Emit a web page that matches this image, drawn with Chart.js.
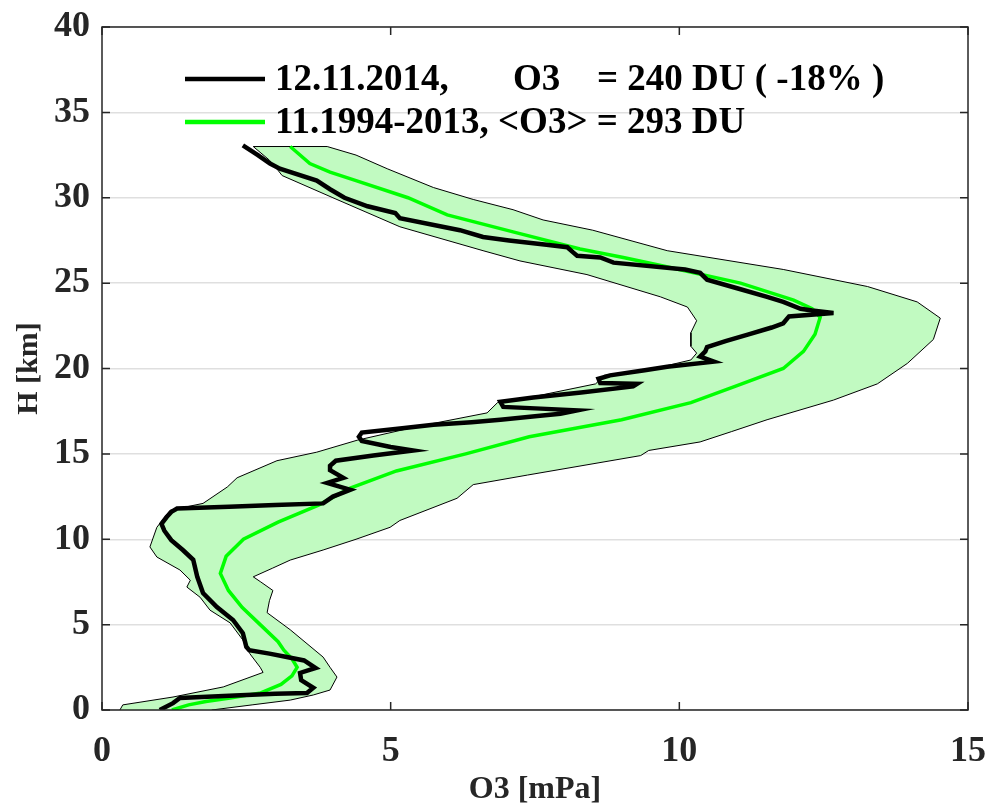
<!DOCTYPE html>
<html>
<head>
<meta charset="utf-8">
<title>Ozone profile</title>
<script src="https://cdn.jsdelivr.net/npm/chart.js@4.4.1/dist/chart.umd.min.js"></script>
<style>
    html, body { margin: 0; padding: 0; background: #fff; }
    #wrap { width: 992px; height: 809px; }
</style>
</head>
<body>
<div id="wrap"><canvas id="ozone"></canvas></div>
<script>
// Sounding of 12.11.2014: height [km] / O3 partial pressure [mPa]
const profileH = [0, 0.4, 0.7, 0.85, 0.95, 1.0, 1.3, 1.75, 2.17, 2.46, 2.9, 3.1, 3.3, 3.5, 3.7, 4.5, 5.27, 6.03, 6.85, 7.8,
    8.8, 9.37, 9.95, 10.5, 10.9, 11.3, 11.6, 11.8, 11.9, 12.0, 12.1, 12.5, 12.9, 13.1, 13.3, 13.6, 14.05, 14.3, 14.6, 14.9,
    15.2, 15.4, 15.75, 16.0, 16.25, 16.5, 16.7, 16.85, 17.0, 17.2, 17.35, 17.55, 17.65, 17.75, 18.05, 18.3, 18.6, 18.95, 19.1, 19.15,
    19.4, 19.6, 19.9, 20.1, 20.4, 20.7, 21.0, 21.25, 21.6, 22.0, 22.4, 22.65, 23.05, 23.25, 23.4, 23.5, 23.9, 24.2, 24.7, 25.2,
    25.6, 25.8, 26.2, 26.5, 26.6, 26.8, 27.1, 27.25, 27.5, 27.7, 28.1, 28.8, 29.1, 29.5, 30.0, 30.5, 31.0, 31.7, 32.0, 32.5, 33.07];
const profileO3 = [1.0, 1.23, 1.35, 2.3, 3.0, 3.55, 3.66, 3.45, 3.43, 3.7, 3.5, 3.2, 2.9, 2.55, 2.5, 2.44, 2.27, 1.99, 1.75, 1.65,
    1.58, 1.4, 1.2, 1.08, 1.03, 1.12, 1.2, 1.3, 2.2, 3.0, 3.83, 4.0, 4.3, 4.1, 3.9, 4.18, 3.95, 3.95, 4.05, 4.7,
    5.39, 5.0, 4.5, 4.45, 4.5, 5.2, 5.74, 6.4, 6.9, 7.5, 7.94, 8.23, 7.6, 6.95, 6.9, 7.47, 8.3, 9.2, 9.27, 8.63,
    8.6, 8.8, 9.4, 9.79, 10.6, 10.36, 10.45, 10.48, 10.8, 11.2, 11.6, 11.8, 11.9, 12.67, 12.3, 12.1, 11.8, 11.52, 11.0, 10.48,
    10.36, 10.1, 8.86, 8.63, 8.23, 8.16, 8.06, 7.7, 7.05, 6.6, 6.2, 5.16, 5.08, 4.6, 4.2, 3.95, 3.72, 3.08, 2.91, 2.7, 2.44];

// November mean 1994-2013
const meanH = [0, 0.3, 0.5, 0.7, 1.0, 1.5, 2.0, 2.5, 3.0, 3.5, 4.0, 5.0, 6.0, 7.0, 8.0, 9.0, 10.0, 11.0, 12.0, 13.0,
    14.0, 15.0, 16.0, 16.5, 17.0, 18.0, 19.0, 20.0, 21.0, 22.0, 23.0, 23.5, 24.0, 25.0, 26.0, 26.5, 27.0, 28.0, 29.0, 30.0,
    31.0, 31.5, 32.0, 33.0];
const meanO3 = [1.21, 1.5, 1.8, 2.22, 2.75, 3.1, 3.29, 3.38, 3.29, 3.15, 3.05, 2.74, 2.43, 2.19, 2.05, 2.15, 2.45, 3.05, 3.75, 4.3,
    5.1, 6.3, 7.4, 8.2, 9.0, 10.2, 11.0, 11.8, 12.15, 12.35, 12.44, 12.3, 11.98, 11.06, 9.72, 9.03, 8.28, 7.12, 5.98, 5.3,
    4.4, 3.95, 3.6, 3.26];

// envelope of the November soundings: upper edge (bottom to top), lower edge (top to bottom)
const bandMaxH = [0, 0.3, 0.58, 0.88, 1.17, 1.93, 2.5, 3.1, 4.7, 5.7, 6.4, 7.0, 7.5, 7.8, 8.3, 8.78, 9.37, 10.0, 10.7, 11.1,
    12.4, 13.2, 13.76, 14.9, 15.2, 15.7, 16.3, 17.0, 18.15, 19.1, 20.3, 21.7, 22.95, 23.9, 24.8, 25.8, 26.9, 28.1, 28.7, 29.3,
    29.9, 30.6, 31.7, 32.5, 33.0];
const bandMaxO3 = [1.9, 2.6, 3.26, 3.66, 3.95, 4.07, 3.95, 3.83, 3.26, 2.86, 2.9, 2.96, 2.75, 2.62, 2.95, 3.26, 3.83, 4.4, 4.99, 5.16,
    6.15, 6.43, 7.37, 9.33, 9.47, 10.36, 10.9, 11.52, 12.67, 13.43, 13.95, 14.4, 14.52, 14.12, 13.26, 11.8, 9.79, 8.5, 7.64, 7.12,
    6.43, 5.74, 4.94, 4.4, 3.9];
const bandMinH = [33.0, 32.2, 31.6, 31.3, 30.0, 28.3, 26.9, 26.3, 25.5, 24.2, 23.6, 22.8, 22.1, 21.3, 20.9, 20.5, 20.1, 19.6, 19.1, 18.3,
    18.0, 17.4, 16.6, 15.8, 15.1, 14.6, 13.6, 13.06, 12.1, 11.7, 10.7, 9.55, 8.96, 8.2, 7.6, 7.2, 6.6, 5.85, 5.1, 4.1,
    3.3, 2.5, 2.2, 1.35, 0.76, 0.3, 0];
const bandMinO3 = [2.62, 2.9, 3.05, 3.12, 4.0, 5.16, 6.6, 7.24, 8.4, 9.67, 10.14, 10.3, 10.2, 10.2, 10.3, 10.2, 9.7, 8.7, 8.55, 7.4,
    6.85, 6.67, 5.46, 4.42, 3.72, 3.03, 2.34, 2.17, 1.75, 1.18, 0.95, 0.83, 0.95, 1.35, 1.53, 1.47, 1.7, 1.87, 2.22, 2.44,
    2.56, 2.74, 2.79, 2.1, 1.23, 0.36, 0.31];

const xTicks = [0, 5, 10, 15];
const yTicks = [0, 5, 10, 15, 20, 25, 30, 35, 40];

const legendRows = [
    { color: '#000000', parts: ['12.11.2014,', 'O3', '= 240 DU ( -18% )'] },
    { color: '#00ff00', parts: ['11.1994-2013, <O3> = 293 DU'] }
];

const FONT = '"Liberation Serif", "Times New Roman", serif';
const AXIS_COLOR = '#262626';

const toPoints = (xs, hs) => xs.map((x, i) => ({ x: x, y: hs[i] }));
const bandPolygon = toPoints(bandMaxO3, bandMaxH).concat(toPoints(bandMinO3, bandMinH));

// legend sits inside the axes, upper left
const legendPlugin = {
    id: 'profileLegend',
    afterDatasetsDraw(chart) {
        const { ctx, chartArea: a } = chart;
        ctx.save();
        ctx.font = 'bold 37px ' + FONT;
        ctx.fillStyle = '#000';
        ctx.textBaseline = 'alphabetic';
        const partX = [173, 411, 495];
        legendRows.forEach((row, i) => {
            const mid = a.top + 52 + i * 43;
            ctx.strokeStyle = row.color;
            ctx.lineWidth = 4.5;
            ctx.beginPath();
            ctx.moveTo(a.left + 83, mid);
            ctx.lineTo(a.left + 163, mid);
            ctx.stroke();
            row.parts.forEach((t, j) => ctx.fillText(t, a.left + partX[j], mid + 11));
        });
        ctx.restore();
    }
};

// box around the axes with inward tick marks
const framePlugin = {
    id: 'axesFrame',
    afterDraw(chart) {
        const { ctx, chartArea: a, scales } = chart;
        ctx.save();
        ctx.strokeStyle = AXIS_COLOR;
        ctx.lineWidth = 1.5;
        ctx.strokeRect(a.left, a.top, a.right - a.left, a.bottom - a.top);
        const len = 8;
        ctx.beginPath();
        xTicks.forEach(v => {
            const px = scales.x.getPixelForValue(v);
            ctx.moveTo(px, a.bottom); ctx.lineTo(px, a.bottom - len);
            ctx.moveTo(px, a.top); ctx.lineTo(px, a.top + len);
        });
        yTicks.forEach(v => {
            const py = scales.y.getPixelForValue(v);
            ctx.moveTo(a.left, py); ctx.lineTo(a.left + len, py);
            ctx.moveTo(a.right, py); ctx.lineTo(a.right - len, py);
        });
        ctx.stroke();
        ctx.restore();
    }
};

new Chart(document.getElementById('ozone'), {
    type: 'scatter',
    data: {
        datasets: [
            {
                label: '12.11.2014',
                data: toPoints(profileO3, profileH),
                showLine: true,
                borderColor: '#000000',
                borderWidth: 4.5,
                pointRadius: 0,
                tension: 0
            },
            {
                label: '11.1994-2013',
                data: toPoints(meanO3, meanH),
                showLine: true,
                borderColor: '#00ff00',
                borderWidth: 3.5,
                pointRadius: 0,
                tension: 0
            },
            {
                label: 'range',
                data: bandPolygon,
                showLine: true,
                fill: 'shape',
                backgroundColor: 'rgb(193,250,193)',
                borderColor: '#000000',
                borderWidth: 1,
                pointRadius: 0,
                tension: 0
            }
        ]
    },
    options: {
        responsive: true,
        maintainAspectRatio: false,
        animation: false,
        layout: { padding: { left: 0, right: 24, top: 27, bottom: 0 } },
        plugins: {
            legend: { display: false },
            tooltip: { enabled: false }
        },
        scales: {
            x: {
                type: 'linear',
                min: 0,
                max: 15,
                afterBuildTicks: s => { s.ticks = xTicks.map(v => ({ value: v })); },
                afterFit: s => { s.height = 99; s.paddingLeft = 0; s.paddingRight = 0; },
                grid: { display: false },
                border: { display: false },
                ticks: {
                    color: AXIS_COLOR,
                    padding: 12,
                    font: { family: FONT, size: 36, weight: 'bold' }
                },
                title: {
                    display: true,
                    text: 'O3 [mPa]',
                    color: AXIS_COLOR,
                    padding: { top: 0, bottom: 0 },
                    font: { family: FONT, size: 32, weight: 'bold' }
                }
            },
            y: {
                type: 'linear',
                min: 0,
                max: 40,
                z: 1,
                afterBuildTicks: s => { s.ticks = yTicks.map(v => ({ value: v })); },
                afterFit: s => { s.width = 102; s.paddingTop = 0; s.paddingBottom = 0; },
                grid: { color: 'rgba(38,38,38,0.15)', lineWidth: 1.5, drawTicks: false },
                border: { display: false },
                ticks: {
                    color: AXIS_COLOR,
                    padding: 12,
                    font: { family: FONT, size: 36, weight: 'bold' }
                },
                title: {
                    display: true,
                    text: 'H [km]',
                    color: AXIS_COLOR,
                    padding: { top: 11, bottom: 0 },
                    font: { family: FONT, size: 30, weight: 'bold' }
                }
            }
        }
    },
    plugins: [legendPlugin, framePlugin]
});
</script>
</body>
</html>
